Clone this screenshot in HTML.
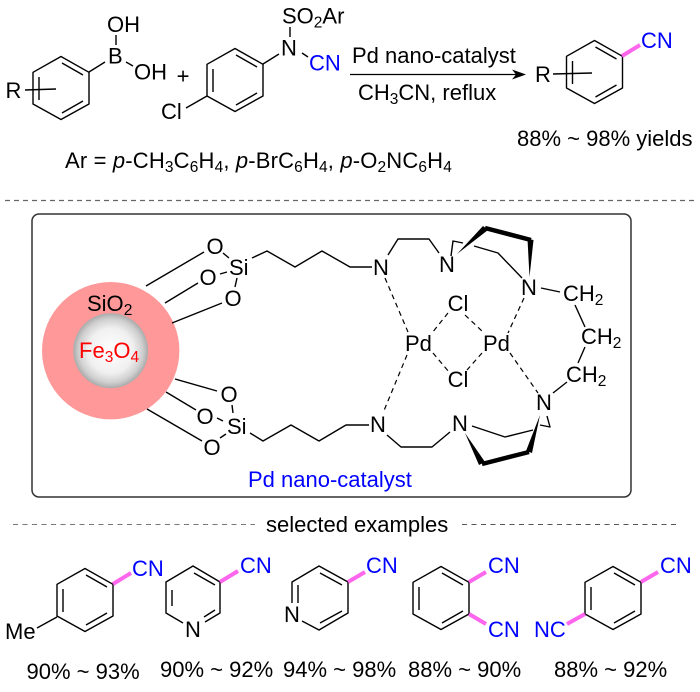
<!DOCTYPE html>
<html><head><meta charset="utf-8"><style>
html,body{margin:0;padding:0;background:#fff}
svg{display:block}
text{font-family:"Liberation Sans",Arial,sans-serif;font-size:22px;fill:#000}
.s{font-size:15.5px}
.b{fill:#0000ff}
.r{fill:#ff0000}
.m{text-anchor:middle}
.l{stroke:#000;stroke-width:1.4;fill:none;stroke-linejoin:round}
.d{stroke:#000;stroke-width:1.2;fill:none;stroke-dasharray:5 4}
.p{stroke:#ff66ee;stroke-width:4;fill:none}
.h{stroke:#000;stroke-width:4.5;fill:none;stroke-linejoin:round}
</style></head><body>
<svg width="700" height="692" viewBox="0 0 700 692" xmlns="http://www.w3.org/2000/svg">
<defs>
<radialGradient id="g" cx="50%" cy="50%" r="50%"><stop offset="0" stop-color="#fff"/><stop offset=".6" stop-color="#f0f0f0"/><stop offset=".85" stop-color="#cfcfcf"/><stop offset="1" stop-color="#aaa"/></radialGradient>
<g id="ring" class="l"><path class="l" d="M0,-31.5L28,-15.7V16L0,31.5L-28,16V-15.7Z"/><path class="l" d="M1,-25L22,-13M22,13L1,25M-22,-11V12"/></g>
</defs>

<!-- top reaction -->
<use href="#ring" x="61" y="88"/>
<use href="#ring" x="235" y="80"/>
<use href="#ring" x="594.5" y="72"/>
<path class="l" d="M89,72L105,62M116,35V45M126,62L133,66M25,90L56,89M207,96L186,108M263,64L279,54M290,27V37M302,53L308,57M553,74L592,73"/>
<text x="108" y="63.5">B</text>
<text x="107" y="32">OH</text>
<text x="134" y="79.5">OH</text>
<text x="5.5" y="98">R</text>
<text x="183" y="83.5" class="m">+</text>
<text x="161" y="119">Cl</text>
<text x="281" y="55.5">N</text>
<text x="282" y="23.5">SO<tspan class="s" dy="4">2</tspan><tspan dy="-4">Ar</tspan></text>
<text x="309" y="70.5" class="b">CN</text>
<path d="M350,74.5H518" stroke="#000" stroke-width="1.3"/>
<path d="M526,74.5L512,69.5L516,74.5L512,79.5Z" fill="#000"/>
<text x="352" y="63">Pd nano-catalyst</text>
<text x="358" y="100">CH<tspan class="s" dy="4">3</tspan><tspan dy="-4">CN, reflux</tspan></text>
<text x="535" y="82">R</text>
<path class="p" d="M622,56L640,45"/>
<text x="641" y="48" class="b">CN</text>
<text x="517" y="146">88% ~ 98% yields</text>
<text x="65" y="168" letter-spacing=".16">Ar = <tspan font-style="italic">p</tspan>-CH<tspan class="s" dy="4">3</tspan><tspan dy="-4">C</tspan><tspan class="s" dy="4">6</tspan><tspan dy="-4">H</tspan><tspan class="s" dy="4">4</tspan><tspan dy="-4">, </tspan><tspan font-style="italic">p</tspan>-BrC<tspan class="s" dy="4">6</tspan><tspan dy="-4">H</tspan><tspan class="s" dy="4">4</tspan><tspan dy="-4">, </tspan><tspan font-style="italic">p</tspan>-O<tspan class="s" dy="4">2</tspan><tspan dy="-4">NC</tspan><tspan class="s" dy="4">6</tspan><tspan dy="-4">H</tspan><tspan class="s" dy="4">4</tspan></text>

<path d="M5,200.5H695" stroke="#666" stroke-width="1.2" stroke-dasharray="5 4"/>

<!-- catalyst box -->
<rect x="32" y="214" width="599" height="283" rx="7" fill="#fff" stroke="#333" stroke-width="1.5"/>
<circle cx="110.7" cy="350.7" r="68.7" fill="#ff9999"/>
<circle cx="110.7" cy="350.7" r="37.5" fill="url(#g)"/>
<text x="87" y="311">SiO<tspan class="s" dy="4">2</tspan></text>
<text x="79" y="358" class="r">Fe<tspan class="s" dy="4">3</tspan><tspan dy="-4">O</tspan><tspan class="s" dy="4">4</tspan></text>

<path class="l" d="M146,286L204,252M165,303L198,283M172,323L222,303M223,253L229,258M220,274L227,272M237,278L235,287"/>
<text x="215" y="254" class="m">O</text>
<text x="208" y="285" class="m">O</text>
<text x="233" y="306" class="m">O</text>
<text x="229" y="275">Si</text>
<path class="l" d="M252,258L267,251L295,267L322,251L350,267H372"/>
<text x="373" y="275">N</text>
<path class="l" d="M388,255L398,239H429L439,253"/>
<text x="439" y="272">N</text>
<path class="l" d="M451,256L453,241L463,243M474,246L498,253L522,278"/>
<path d="M457,254L483,226L488,230Z" fill="#000"/>
<path class="h" d="M485,228L531,240"/>
<path d="M529.5,277L527.5,239L533.5,240Z" fill="#000"/>
<text x="521" y="295">N</text>
<path class="l" d="M541,288L560,292"/>
<text x="563" y="301">CH<tspan class="s" dy="4">2</tspan></text>
<path class="l" d="M575,305L585,327"/>
<text x="581" y="344">CH<tspan class="s" dy="4">2</tspan></text>
<path class="l" d="M585,347L578,363"/>
<text x="566" y="382">CH<tspan class="s" dy="4">2</tspan></text>
<path class="l" d="M567,382L553,393"/>
<text x="536" y="410">N</text>
<path class="l" d="M547,416L550,427L540,425M472,426L505,437L533,430"/>
<path d="M540,415L526,451L532,453Z" fill="#000"/>
<path class="h" d="M529,452L482,464"/>
<path d="M465,433L479,465L485,462Z" fill="#000"/>
<text x="452" y="431">N</text>
<path class="l" d="M450,432L432,447H401L387,435"/>
<text x="370" y="432">N</text>
<path class="l" d="M369,425H346L319,441L291,425L263,441L250,433"/>
<text x="227" y="434">Si</text>
<text x="229" y="402" class="m">O</text>
<text x="205" y="424" class="m">O</text>
<text x="212" y="455" class="m">O</text>
<path class="l" d="M175,379L217,391M166,392L196,410M147,409L202,441M232,405L233,413M217,418L223,421M220,438L226,434"/>

<text x="405" y="351">Pd</text>
<text x="483" y="351">Pd</text>
<text x="458" y="311" class="m">Cl</text>
<text x="458" y="387" class="m">Cl</text>
<path class="d" d="M385,278L408,332M407,355L383,413M448,313L432,333M433,353L449,372M465,315L483,332M482,353L467,370M524,298L508,333M510,353L538,393"/>
<text x="248" y="487" class="b">Pd nano-catalyst</text>

<!-- selected examples -->
<path d="M13,524.5H255" stroke="#777" stroke-width="1.1" stroke-dasharray="5 4.5"/>
<text x="266" y="532">selected examples</text>
<path d="M462,524.5H679" stroke="#555" stroke-width="1" stroke-dasharray="5 4.5"/>

<use href="#ring" x="85" y="600"/>
<path class="l" d="M57,617L37,628"/>
<path class="p" d="M113,584L131,573"/>
<text x="132" y="576" class="b">CN</text>
<text x="5" y="639">Me</text>

<path class="l" d="M183,623L166,613V582L193,566L220,582V613L205,622M172,590V606M194,573L215,585M204,617L215,610"/>
<text x="193" y="637" class="m">N</text>
<path class="p" d="M220,582L238,571"/>
<text x="240" y="573" class="b">CN</text>

<path class="l" d="M292,603V582L319,566L348,582V613L319,630L302,621M298,585V603M320,573L342,585M320,623L342,611"/>
<text x="292" y="622" class="m">N</text>
<path class="p" d="M348,582L365,572"/>
<text x="366" y="573" class="b">CN</text>

<use href="#ring" x="441" y="598"/>
<path class="p" d="M469,582L486,572M469,614L486,624"/>
<text x="488" y="573" class="b">CN</text>
<text x="488" y="637" class="b">CN</text>

<use href="#ring" x="613" y="598"/>
<path class="p" d="M641,582L658,572M585,614L567,624"/>
<text x="660" y="573" class="b">CN</text>
<text x="534" y="637" class="b">NC</text>

<text x="26.5" y="679">90% ~ 93%</text>
<text x="160" y="677">90% ~ 92%</text>
<text x="283" y="677">94% ~ 98%</text>
<text x="408" y="677">88% ~ 90%</text>
<text x="554" y="677">88% ~ 92%</text>
</svg>
</body></html>
